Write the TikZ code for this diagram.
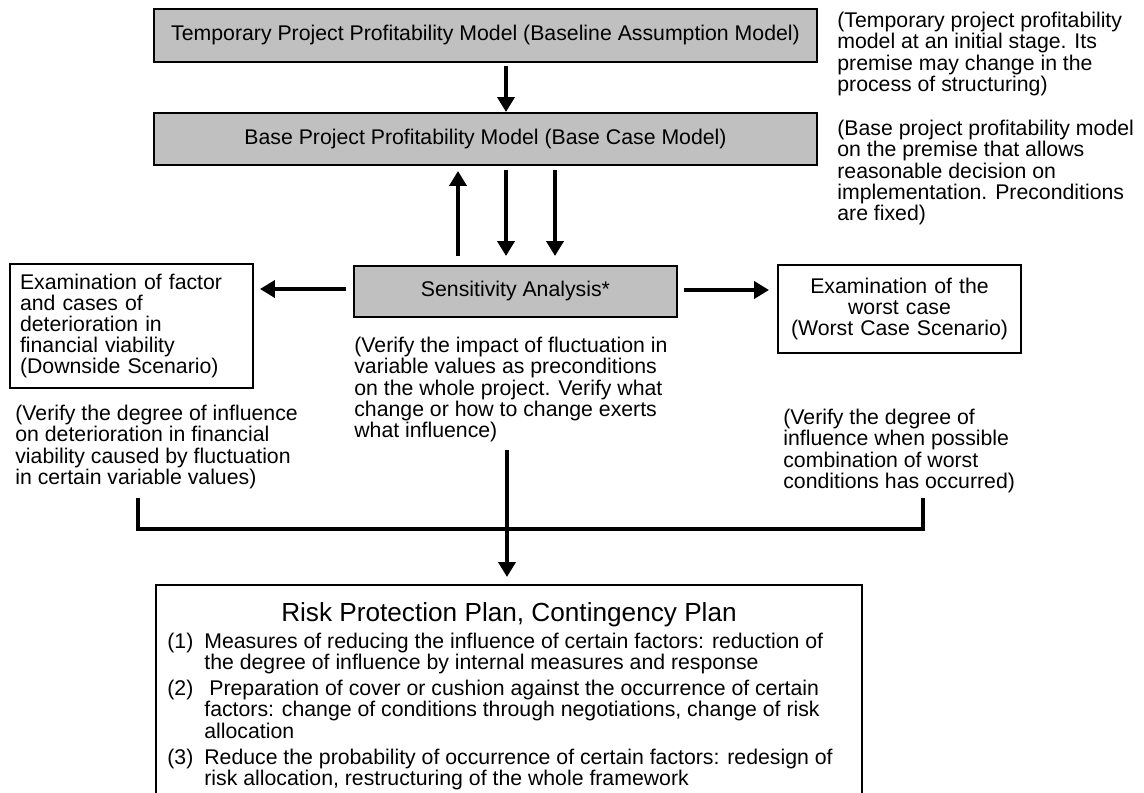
\documentclass[tikz,border=0pt]{standalone}
\usepackage{fontspec}
\setmainfont{Liberation Sans}
\usetikzlibrary{arrows.meta}
\definecolor{boxgray}{RGB}{192,192,192}
\tikzset{
  gbox/.style={draw, line width=0.04cm, fill=boxgray, inner sep=0pt},
  wbox/.style={draw, line width=0.04cm, fill=white, inner sep=0.2cm},
  note/.style={anchor=north west, align=left, inner sep=0pt},
  arr/.style={line width=0.085cm, -{Triangle[width=0.34cm,length=0.3cm]}},
  bar/.style={line width=0.08cm},
}
\begin{document}
\begin{tikzpicture}[x=0.02cm, y=-0.02cm, font=\fontsize{12.1}{12.05}\selectfont]
            \useasboundingbox (0,0) rectangle (1144,793);
            \node[gbox, minimum width=13.26cm, minimum height=1.06cm] (tmp) at (485.5,35.5) {Temporary Project Profitability Model (Baseline Assumption Model)};
            \node[gbox, minimum width=13.26cm, minimum height=1.04cm] (base) at (485.5,139) {Base Project Profitability Model (Base Case Model)};
            \node[gbox, minimum width=6.46cm, minimum height=1.02cm] (sens) at (515.5,291.5) {Sensitivity Analysis*};
            \node[wbox, text width=4.46cm, minimum height=2.44cm, align=left] (down) at (131.5,326) {Examination of factor\\and cases of\\deterioration in\\financial viability\\(Downside Scenario)};
            \node[wbox, text width=4.46cm, minimum height=1.76cm, align=center] (worst) at (899.5,309) {Examination of the\\worst case\\(Worst Case Scenario)};
            \node[note] (tmpnote) at (837,12) {(Temporary project profitability\\model at an initial stage. Its\\premise may change in the\\process of structuring)};
            \node[note] (basenote) at (837,120) {(Base project profitability model\\on the premise that allows\\reasonable decision on\\implementation. Preconditions\\are fixed)};
            \node[note] (sensnote) at (354,337) {(Verify the impact of fluctuation in\\variable values as preconditions\\on the whole project. Verify what\\change or how to change exerts\\what influence)};
            \node[note] (downnote) at (15,405) {(Verify the degree of influence\\on deterioration in financial\\viability caused by fluctuation\\in certain variable values)};
            \node[note] (worstnote) at (783,409) {(Verify the degree of\\influence when possible\\combination of worst\\conditions has occurred)};
            \node[minimum width=14.12cm, minimum height=4.3cm, anchor=north, inner sep=0pt] (plan) at (509,585) {};
            \draw[line width=0.04cm] (plan.south west) -- (plan.north west) -- (plan.north east) -- (plan.south east);
            \node[font=\fontsize{14.9}{15}\selectfont] (plantitle) at (509,615) {Risk Protection Plan, Contingency Plan};
            \node[note] (num1) at (167,633) {(1)};
            \node[note] (item1) at (204,633) {Measures of reducing the influence of certain factors: reduction of\\the degree of influence by internal measures and response};
            \node[note] (num2) at (167,680) {(2)};
            \node[note] (item2) at (204,680) {\hspace{0.1cm}Preparation of cover or cushion against the occurrence of certain\\factors: change of conditions through negotiations, change of risk\\allocation};
            \node[note] (num3) at (167,749) {(3)};
            \node[note] (item3) at (204,749) {Reduce the probability of occurrence of certain factors: redesign of\\risk allocation, restructuring of the whole framework};
            \draw[arr, shorten <=0.06cm] (tmp.south -| 506,0) -- (base.north -| 506,0);
            \draw[arr, shorten <=0.18cm, shorten >=0.1cm] (sens.north -| 458,0) -- (base.south -| 458,0);
            \foreach \x in {506,555}{
              \draw[arr, shorten <=0.08cm, shorten >=0.18cm] (base.south -| \x,0) -- (sens.north -| \x,0);
              }
            \draw[arr, shorten <=0.14cm, shorten >=0.12cm] (sens.west |- 0,289) -- (down.east |- 0,289);
            \draw[arr, shorten <=0.12cm, shorten >=0.16cm] (sens.east |- 0,290) -- (worst.west |- 0,290);
            \coordinate (bl) at (138,498);
            \coordinate (br) at (923,498);
            \coordinate (bj) at (507,529);
            \coordinate (bc) at (507,450);
            \draw[bar] (bl) |- (bj) -| (br);
            \draw[arr, shorten >=0.16cm] (bc) -- (plan.north -| bc);
          \end{tikzpicture}
\end{document}
